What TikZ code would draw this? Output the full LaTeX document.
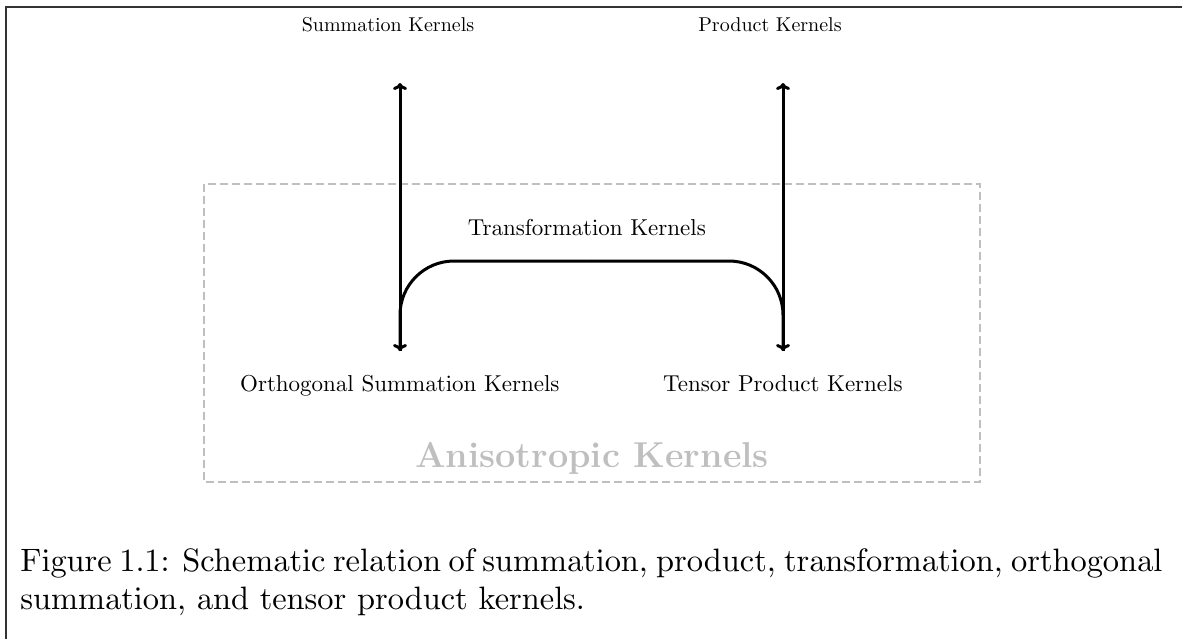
\documentclass[tikz,border=0pt]{standalone}
\usetikzlibrary{arrows.meta}
\font\lblbigfont=cmr10 at 11.5pt
\font\capfont=cmr10 at 16.2pt
\newcommand{\capsetup}{\fontsize{16.2}{19}\selectfont\capfont}
\begin{document}
\begin{tikzpicture}[x=0.5pt,y=-0.5pt,
  lbl/.style={anchor=base,inner sep=0pt,font=\fontsize{10}{12}\selectfont},
  lblbig/.style={anchor=base,inner sep=0pt,font=\lblbigfont},
  conn/.style={line width=1.5pt,-{To[length=3.5pt,width=7pt]}},
  groupbox/.style={draw=black!25,line width=0.6pt,dash pattern=on 4pt off 2pt},
  grouplbl/.style={anchor=base,inner sep=0pt,text=black!25,font=\fontsize{18}{21}\selectfont\bfseries},
  frameline/.style={draw=black!80,line width=0.8pt}]
\useasboundingbox (0,0) rectangle (1182,639);
\draw[frameline] (6,639) -- (6,7) -- (1182,7);
% group box
\draw[groupbox] (204,184) rectangle (980,482);
\node[grouplbl] (aniso) at (592,467) {Anisotropic Kernels};
% labels
\node[lbl] (sum) at (388,31) {Summation Kernels};
\node[lbl] (prod) at (770,31) {Product Kernels};
\node[lblbig] (trans) at (587,235) {Transformation Kernels};
\node[lblbig] (orth) at (400,391) {Orthogonal Summation Kernels};
\node[lblbig] (tens) at (783,391) {Tensor Product Kernels};
% arrow end points
\coordinate (sumtip) at (400,83);
\coordinate (prodtip) at (783,83);
\coordinate (orthtip) at (400,351);
\coordinate (tenstip) at (783,351);
\coordinate (transmid) at (591,261);
% connectors
\draw[conn] (orthtip) -- (sumtip);
\draw[conn] (tenstip) -- (prodtip);
\draw[conn,rounded corners=27pt] (transmid) -| (orthtip);
\draw[conn,rounded corners=27pt] (transmid) -| (tenstip);
% caption
\node[anchor=base west,inner sep=0pt,align=left,font=\capsetup] (cap) at (20,609)
  {\hbox to 571.5pt{Figure 1.1: Schematic relation of summation, product, transformation, orthogonal}\\
   summation, and tensor product kernels.};
\end{tikzpicture}
\end{document}
